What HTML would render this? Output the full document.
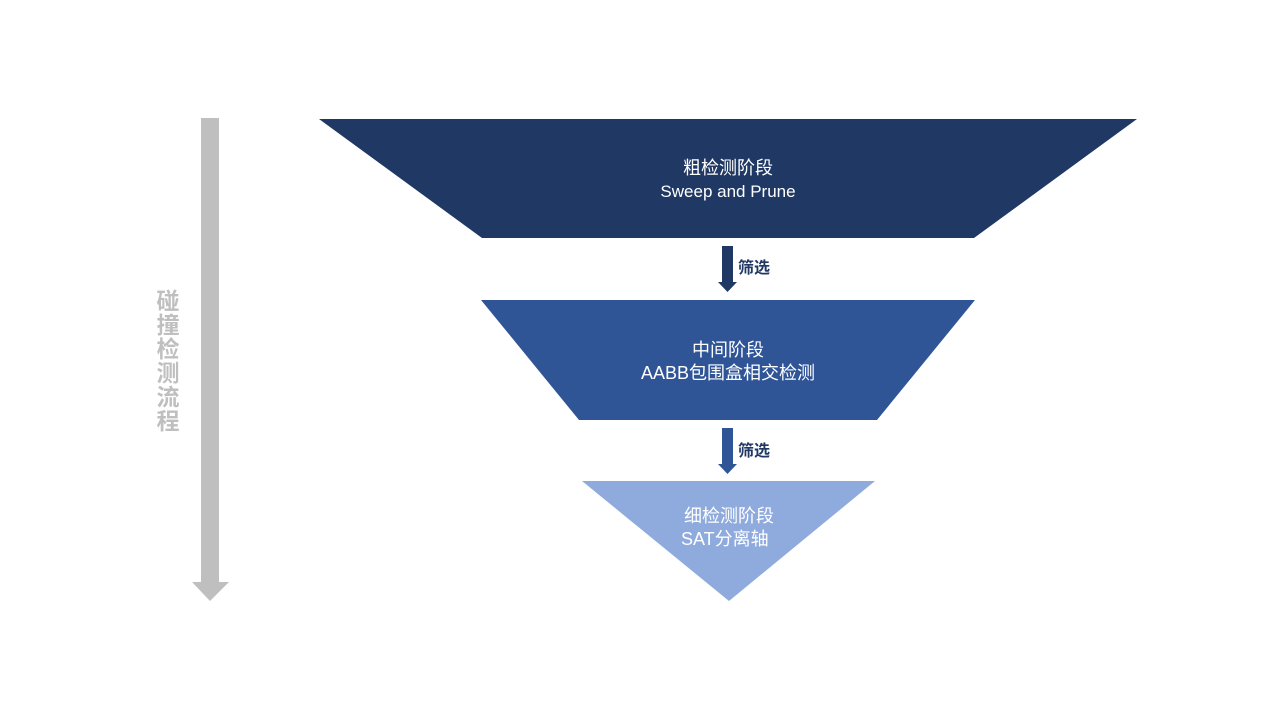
<!DOCTYPE html>
<html><head><meta charset="utf-8"><style>
body{margin:0;width:1280px;height:720px;background:#fff;overflow:hidden;}
svg text{font-family:"Liberation Sans","Noto Sans CJK SC",sans-serif;}
</style></head><body>
<svg width="1280" height="720" xmlns="http://www.w3.org/2000/svg">
<polygon points="201,118 219,118 219,582 229,582 210,601 192,582 201,582" fill="#bfbfbf"/>
<text x="168" y="309" font-size="23" font-weight="bold" fill="#bfbfbf" text-anchor="middle">碰</text>
<text x="168" y="333" font-size="23" font-weight="bold" fill="#bfbfbf" text-anchor="middle">撞</text>
<text x="168" y="357" font-size="23" font-weight="bold" fill="#bfbfbf" text-anchor="middle">检</text>
<text x="168" y="381" font-size="23" font-weight="bold" fill="#bfbfbf" text-anchor="middle">测</text>
<text x="168" y="405" font-size="23" font-weight="bold" fill="#bfbfbf" text-anchor="middle">流</text>
<text x="168" y="429" font-size="23" font-weight="bold" fill="#bfbfbf" text-anchor="middle">程</text>

<polygon points="319,119 1137,119 974,238 482,238" fill="#203864"/>
<text x="728" y="174" font-size="18" fill="#fff" text-anchor="middle">粗检测阶段</text>
<text x="728" y="197" font-size="17" fill="#fff" text-anchor="middle">Sweep and Prune</text>

<polygon points="722,246 733,246 733,282 737,282 727.5,292 718,282 722,282" fill="#203864"/>
<text x="738" y="273" font-size="16" font-weight="bold" fill="#203864">筛选</text>

<polygon points="481,300 975,300 877,420 579,420" fill="#2f5597"/>
<text x="728" y="356" font-size="18" fill="#fff" text-anchor="middle">中间阶段</text>
<text x="728" y="379" font-size="18" fill="#fff" text-anchor="middle">AABB包围盒相交检测</text>

<polygon points="722,428 733,428 733,464 737,464 727.5,474 718,464 722,464" fill="#2f5597"/>
<text x="738" y="456" font-size="16" font-weight="bold" fill="#203864">筛选</text>

<polygon points="582,481 875,481 729,601" fill="#8faadc"/>
<text x="729" y="522" font-size="18" fill="#fff" text-anchor="middle">细检测阶段</text>
<text x="681" y="545" font-size="18" fill="#fff">SAT分离轴</text>
</svg>
</body></html>
